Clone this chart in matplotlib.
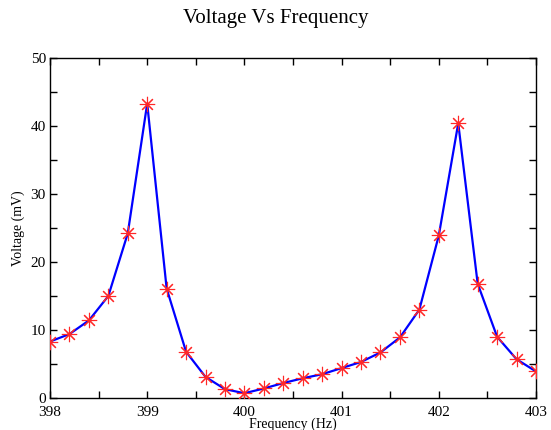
import matplotlib
matplotlib.use("Agg")
import matplotlib.pyplot as plt
from matplotlib.ticker import MultipleLocator

plt.rcParams['font.family'] = ['Liberation Serif', 'DejaVu Serif']

freq = [398.0, 398.2, 398.4, 398.6, 398.8, 399.0, 399.2, 399.4, 399.6, 399.8,
        400.0, 400.2, 400.4, 400.6, 400.8, 401.0, 401.2, 401.4, 401.6, 401.8,
        402.0, 402.2, 402.4, 402.6, 402.8, 403.0]
voltage = [8.3, 9.4, 11.4, 15.0, 24.2, 43.3, 16.1, 6.8, 3.1, 1.3,
           0.7, 1.4, 2.2, 2.9, 3.5, 4.4, 5.3, 6.7, 8.9, 13.0,
           23.9, 40.4, 16.8, 9.0, 5.7, 3.9]

fig = plt.figure(figsize=(5.51, 4.30), dpi=100)
ax = fig.add_axes([50 / 551, 1 - 398 / 430, 486 / 551, 340 / 430])

ax.plot(freq, voltage, color='#0000ff', linewidth=1.6, zorder=2)
ax.plot(freq, voltage, linestyle='none', marker=(8, 2, 0), markersize=11,
        markeredgecolor='#ff2828', markeredgewidth=0.8, zorder=3)

ax.set_xlim(398, 403)
ax.set_ylim(0, 50)
ax.xaxis.set_major_locator(MultipleLocator(1))
ax.xaxis.set_minor_locator(MultipleLocator(0.5))
ax.yaxis.set_major_locator(MultipleLocator(10))
ax.yaxis.set_minor_locator(MultipleLocator(5))
ax.tick_params(which='both', direction='in', top=True, right=True,
               length=5, width=1, labelsize=11)
ax.tick_params(axis='x', pad=6)
ax.tick_params(axis='y', pad=3)
for s in ax.spines.values():
    s.set_linewidth(1)

ax.set_xlabel('Frequency (Hz)', fontsize=10, labelpad=-1)
ax.set_ylabel('Voltage (mV)', fontsize=10, labelpad=4)
fig.text(0.5, 1 - 18 / 430, 'Voltage Vs Frequency', ha='center', va='center', fontsize=15)

fig.savefig('out.png', dpi=100)
